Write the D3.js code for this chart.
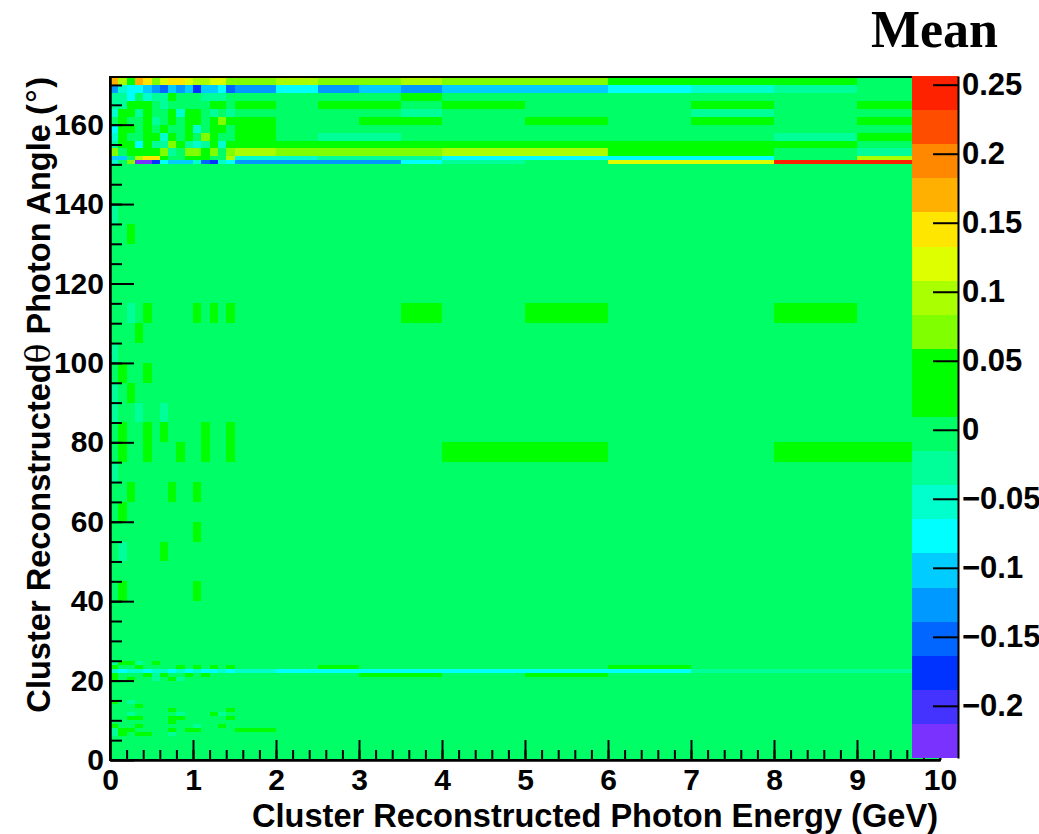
<!DOCTYPE html>
<html>
<head>
<meta charset="utf-8">
<script src="https://d3js.org/d3.v7.min.js"></script>
<style>
  body { margin: 0; background: #fff; }
  text { font-family: 'Liberation Sans', Arial, sans-serif; font-weight: bold; fill: #000; }
  .axis .domain, .axis line { stroke: #000; stroke-width: 2; }
</style>
</head>
<body>
<svg id="chart" width="1039" height="834"></svg>
<script>
// bin edges
var energyEdges = [0, 0.1, 0.2, 0.3, 0.4, 0.5, 0.6, 0.7, 0.8, 0.9, 1.0, 1.1, 1.2, 1.3, 1.4, 1.5,
  2, 2.5, 3, 3.5, 4, 5, 6, 7, 8, 9, 10];
var thetaEdges = [0, 1, 2, 3, 4, 5, 6, 7, 8, 9, 10, 11, 12, 13, 14, 15, 16, 17, 18, 19, 20, 21, 22, 23, 24, 25,
  30, 35, 40, 45, 50, 55, 60, 65, 70, 75, 80, 85, 90, 95, 100, 105, 110, 115, 120, 125, 130, 135, 140, 145, 150,
  151, 152, 154, 156, 158, 160, 162, 164, 166, 168, 170, 172];

// colour bar (bottom to top) and its range
var paletteColors = ['#7a33ff', '#4433ff', '#0033ff', '#0066ff', '#0099ff', '#00ccff', '#00ffff', '#00ffcc',
  '#00ff99', '#00ff66', '#00ff00', '#00ff00', '#80ff00', '#aaff00', '#ddff00', '#ffe600', '#ffb000', '#ff8800',
  '#ff4d00', '#ff2200'];
var zMin = -0.2378, zMax = 0.2563;

// mean per cell, one char per energy bin = colour-bar level (0..J), rows from the top (172 deg) down
var levelCodes = '0123456789ABCDEFGHIJ';
var flat = '99999999999999999999999999';
var meanRows = [
  'GDBGFCEFFEDDEECCDCCDCCBBB9', // 170-172
  '47665435452556346454556789',
  '8869788B99988899999B999999',
  '88BBB9899999BB9B9BB9B99B9B',
  '7BB8B99B7BB989899998999899',
  '9B99B89B9BB9BCBB99BB9B9B9B', // 160-162
  '6BB9B9B99B79BB9B9999999999',
  '7B99BB7B9B9CB99B988999998B',
  '8BB6B88CB878B7BBBBBBBBBBB9',
  'C9BBBBC89CCBC9CDCCCCDDBB98',
  '559DFFB99BBB99D7788866669D', // 151-152
  '79C0026555732764444689EEJJ', // 150-151
  flat,                         // 145-150
  flat,
  '89999999999999999999999999', // 135-140
  '99B99999999999999999999999',
  flat,
  flat,
  flat,
  '9989B99999B9B9B9999B9B99B9', // 110-115
  '999B9999999999999999999999',
  '89999999999999999999999999', // 100-105
  '9B99B999999999999999999999',
  '89B99999999999999999999999',
  '89989989999999999999999999',
  '9B99B9B9999B99B99999999999', // 80-85
  '9B99B999B99B99B99999BB99BB', // 75-80
  '89999999999999999999999999',
  '99B9999B99B999999999999999',
  '9B999999999999999999999999', // 60-65
  '9999999999B999999999999999',
  '989999B9999999999999999999', // 50-55
  flat,
  '9B99999999B999999999999999', // 40-45
  flat,
  flat,
  flat,                         // 25-30
  '8BB89B99999999999999999999', // 24-25
  'B99B9999B9B9B9B99B9999B999',
  '76776776767667676666666888', // 22-23
  'B999B8B99B9B999999BB9B9999',
  'B9B9989B899999999999999999', // 20-21
  flat, flat, flat, flat, flat,
  'B9899999999999999999999999', // 14-15
  '999B9999999999999999999999',
  '9999999B999999B99999999999',
  '998999998999B8999999999999',
  '99BB999BB99999B99999999999', // 10-11
  '9999999B999999999999999999',
  'B99B999999899B999999999999',
  '8BB9999B9BB9999B9999999999',
  '8B9BB998999999999999999999', // 6-7
  flat, flat, flat, flat, flat, flat
];

var xTicks = [0, 1, 2, 3, 4, 5, 6, 7, 8, 9, 10];
var yTicks = [0, 20, 40, 60, 80, 100, 120, 140, 160];
var zTicks = [-0.2, -0.15, -0.1, -0.05, 0, 0.05, 0.1, 0.15, 0.2, 0.25];

var svg = d3.select('#chart');
var frame = { left: 110, right: 940, top: 77, bottom: 760 };
var bar = { left: 912, right: 958, top: 76, bottom: 758 };

var x = d3.scaleLinear().domain([0, 10]).range([frame.left, frame.right]);
var y = d3.scaleLinear().domain([0, 172]).range([frame.bottom, frame.top]);
var z = d3.scaleLinear().domain([zMin, zMax]).range([bar.bottom, bar.top]);
var color = d3.scaleQuantize().domain([zMin, zMax]).range(paletteColors);
var step = (zMax - zMin) / paletteColors.length;

var cells = [];
meanRows.forEach(function (row, r) {
  var j = thetaEdges.length - 2 - r;
  row.split('').forEach(function (code, i) {
    cells.push({
      e0: energyEdges[i], e1: energyEdges[i + 1],
      t0: thetaEdges[j], t1: thetaEdges[j + 1],
      mean: zMin + (levelCodes.indexOf(code) + 0.5) * step
    });
  });
});

svg.append('g')
  .attr('shape-rendering', 'crispEdges')
  .selectAll('rect')
  .data(cells)
  .join('rect')
  .attr('x', function (d) { return x(d.e0); })
  .attr('y', function (d) { return y(d.t1); })
  .attr('width', function (d) { return x(d.e1) - x(d.e0); })
  .attr('height', function (d) { return y(d.t0) - y(d.t1); })
  .attr('fill', function (d) { return color(d.mean); });

svg.append('rect')
  .attr('x', frame.left).attr('y', frame.top)
  .attr('width', frame.right - frame.left).attr('height', frame.bottom - frame.top)
  .attr('fill', 'none').attr('stroke', '#000').attr('stroke-width', 2);

function styleAxis(size) {
  return function (g) {
    g.attr('class', 'axis').attr('font-size', null).attr('font-family', null);
    g.selectAll('text').style('font-size', size + 'px');
  };
}

// y axis, ticks pointing into the frame
svg.append('g')
  .attr('transform', 'translate(' + frame.left + ',0)')
  .call(d3.axisLeft(y).tickValues(d3.range(5, 172, 5)).tickSize(-12).tickSizeOuter(0).tickFormat(''))
  .call(styleAxis(30));
svg.append('g')
  .attr('transform', 'translate(' + frame.left + ',0)')
  .call(d3.axisLeft(y).tickValues(yTicks).tickSize(-24).tickSizeOuter(0).tickPadding(6))
  .call(styleAxis(30));

// x axis
svg.append('g')
  .attr('transform', 'translate(0,' + frame.bottom + ')')
  .call(d3.axisBottom(x).tickValues(d3.range(0.2, 10, 0.2)).tickSize(-10).tickSizeOuter(0).tickFormat(''))
  .call(styleAxis(30));
svg.append('g')
  .attr('transform', 'translate(0,' + frame.bottom + ')')
  .call(d3.axisBottom(x).tickValues(xTicks).tickSize(-20).tickSizeOuter(0).tickPadding(9))
  .call(styleAxis(30));

// colour bar
svg.append('g')
  .attr('shape-rendering', 'crispEdges')
  .selectAll('rect')
  .data(paletteColors)
  .join('rect')
  .attr('x', bar.left)
  .attr('width', bar.right - bar.left)
  .attr('y', function (c, i) { return z(zMin + (i + 1) * step); })
  .attr('height', function (c, i) { return z(zMin + i * step) - z(zMin + (i + 1) * step); })
  .attr('fill', function (c) { return c; });

svg.append('g')
  .attr('transform', 'translate(' + bar.right + ',0)')
  .call(d3.axisRight(z).tickValues(zTicks).tickSize(-25).tickSizeOuter(0).tickPadding(4)
    .tickFormat(function (d) { return d3.format('~g')(d); }))
  .call(styleAxis(31));

// titles
svg.append('text')
  .attr('x', 998).attr('y', 47)
  .attr('text-anchor', 'end')
  .style('font-family', "'Liberation Serif', 'Times New Roman', serif")
  .style('font-size', '52px')
  .text('Mean');

svg.append('text')
  .attr('x', 938).attr('y', 827)
  .attr('text-anchor', 'end')
  .style('font-size', '32.6px')
  .text('Cluster Reconstructed Photon Energy (GeV)');

var yTitle = svg.append('text')
  .attr('transform', 'rotate(-90)')
  .attr('x', -frame.top).attr('y', 50)
  .attr('text-anchor', 'end')
  .style('font-size', '32.6px');
yTitle.append('tspan').text('Cluster Reconstructed');
yTitle.append('tspan').style('font-weight', 'normal').style('font-family', "'DejaVu Serif', serif").text('\u03b8');
yTitle.append('tspan').text(' Photon Angle (');
yTitle.append('tspan').style('font-weight', 'normal').style('font-family', "'DejaVu Sans', sans-serif").text('\u00b0');
yTitle.append('tspan').text(')');
</script>
</body>
</html>
